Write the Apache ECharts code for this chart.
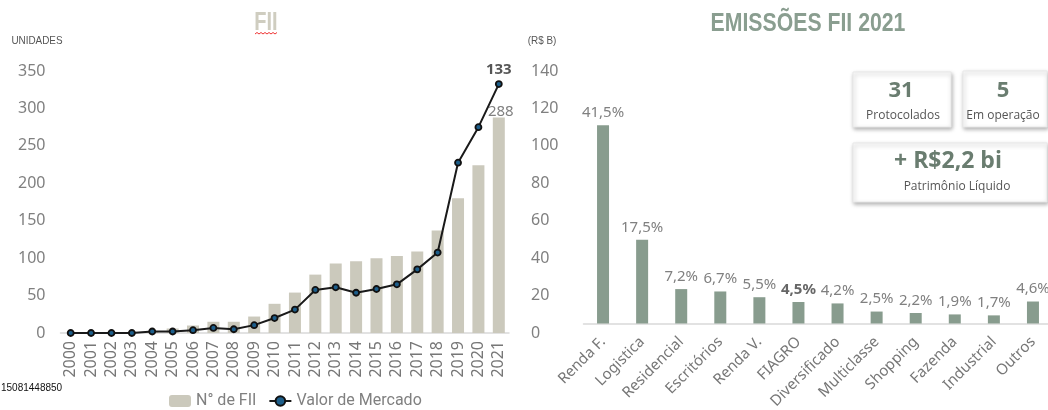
<!DOCTYPE html>
<html><head><meta charset="utf-8">
<script src="https://cdn.jsdelivr.net/npm/echarts@6/dist/echarts.min.js"></script>
<style>html,body{margin:0;padding:0;background:#fff}#c{width:1048px;height:410px}</style>
</head><body><div id="c"></div>
<script>
const years = ['2000','2001','2002','2003','2004','2005','2006','2007','2008','2009','2010','2011','2012','2013','2014','2015','2016','2017','2018','2019','2020','2021'];
const numFII = [0,0,0,0,2,6,10,15,15,22,39,54,78,93,96,100,103,109,137,180,224,288];
const valorMercado = [0,0,0,0,0.8,0.8,1.5,2.7,2,4.2,8,12.5,23,24.4,21.5,23.5,26,34,43,91,110,133];
const leftTicks = [0,50,100,150,200,250,300,350];
const rightTicks = [0,20,40,60,80,100,120,140];
const categories = ['Renda F.','Logistica','Residencial','Escritórios','Renda V.','FIAGRO','Diversificado','Multiclasse','Shopping','Fazenda','Industrial','Outros'];
const emissoes = [41.5,17.5,7.2,6.7,5.5,4.5,4.2,2.5,2.2,1.9,1.7,4.6];

const FONT = 'Noto Sans';
const GRAY = '#808080';
const chart = echarts.init(document.getElementById('c'));
const fmtPct = v => v.toFixed(1).replace('.', ',') + '%';

chart.setOption({
  animation: false,
  textStyle: {fontFamily: FONT},
  grid: [
    {left: 60.5, width: 448.5, top: 71, bottom: 77, containLabel: false, outerBoundsMode: 'none'},
    {left: 583.5, width: 469, top: 84.5, bottom: 86.5, containLabel: false, outerBoundsMode: 'none'}
  ],
  legend: {
    data: ['N° de FII', 'Valor de Mercado'],
    left: 164, top: 388,
    itemWidth: 22, itemHeight: 12, itemGap: 12,
    textStyle: {fontFamily: 'Roboto', fontSize: 16, color: GRAY}
  },
  xAxis: [
    {type: 'category', gridIndex: 0, data: years,
     axisLine: {lineStyle: {color: '#d9d9d9', width: 1.5}}, axisTick: {show: false},
     axisLabel: {rotate: 90, fontSize: 16, color: '#777', margin: 8, interval: 0}},
    {type: 'category', gridIndex: 1, data: categories,
     axisLine: {lineStyle: {color: '#d9d9d9', width: 1.5}}, axisTick: {show: false},
     axisLabel: {rotate: 45, fontSize: 15, color: '#777', margin: 16, interval: 0}}
  ],
  yAxis: [
    {type: 'value', gridIndex: 0, min: 0, max: 350, interval: 50,
     axisLine: {show: false}, axisTick: {show: false}, splitLine: {show: false},
     axisLabel: {fontSize: 16, color: GRAY, margin: 15}},
    {type: 'value', gridIndex: 0, min: 0, max: 140, interval: 20, position: 'right',
     axisLine: {show: false}, axisTick: {show: false}, splitLine: {show: false},
     axisLabel: {fontSize: 16, color: GRAY, margin: 22}},
    {type: 'value', gridIndex: 1, min: 0, max: 50, show: false}
  ],
  series: [
    {name: 'N° de FII', type: 'bar', xAxisIndex: 0, yAxisIndex: 0, barWidth: 12,
     itemStyle: {color: '#cbc9bc'},
     data: numFII.map((v, i) => i === numFII.length - 1
       ? {value: v, label: {show: true, position: 'top', distance: -2, fontSize: 15, color: GRAY, offset: [2, 0]}}
       : v)},
    {name: 'Valor de Mercado', type: 'line', xAxisIndex: 0, yAxisIndex: 1,
     symbol: 'circle', symbolSize: 6,
     lineStyle: {color: '#1a1a1a', width: 2},
     itemStyle: {color: '#1d5e8a', borderColor: '#111', borderWidth: 1.8},
     data: valorMercado.map((v, i) => i === valorMercado.length - 1
       ? {value: v, label: {show: true, position: 'top', distance: 3, fontSize: 15, fontWeight: 'bold', color: '#555'}}
       : v)},
    {name: 'Emissões', type: 'bar', xAxisIndex: 1, yAxisIndex: 2, barWidth: 12,
     itemStyle: {color: '#889c8e'},
     label: {show: true, position: 'top', distance: 5, fontSize: 15, color: GRAY,
       formatter: p => fmtPct(p.value)},
     data: emissoes.map((v, i) => categories[i] === 'FIAGRO'
       ? {value: v, label: {fontWeight: 'bold', color: '#666'}} : v)}
  ],
  graphic: [
    {type: 'text', x: 266, y: 23, scaleX: 0.8,
     style: {text: 'FII', font: 'bold 25px "Liberation Sans"', fill: '#cfcdc0', textAlign: 'center', textVerticalAlign: 'middle'}},
    {type: 'polyline', shape: {points: [[255,34],[257,32.5],[259,34],[261,32.5],[263,34],[265,32.5],[267,34],[269,32.5],[271,34],[273,32.5],[275,34],[277,32.5]]},
     style: {stroke: '#e33', lineWidth: 1, fill: null}},
    {type: 'text', x: 37, y: 41, scaleX: 0.9,
     style: {text: 'UNIDADES', font: '11px "Liberation Sans"', fill: '#555', textAlign: 'center', textVerticalAlign: 'middle'}},
    {type: 'text', x: 542, y: 41, scaleX: 0.9,
     style: {text: '(R$ B)', font: '11px "Liberation Sans"', fill: '#555', textAlign: 'center', textVerticalAlign: 'middle'}},
    {type: 'text', x: 1, y: 388,
     style: {text: '15081448850', font: '10px "Liberation Sans"', fill: '#111', textAlign: 'left', textVerticalAlign: 'middle'}},
    {type: 'text', x: 808, y: 24, scaleX: 0.85,
     style: {text: 'EMISSÕES FII 2021', font: 'bold 25px "Liberation Sans"', fill: '#8a9e90', textAlign: 'center', textVerticalAlign: 'middle'}},
    {type: 'rect', shape: {x: 853, y: 72, width: 98, height: 55},
     style: {fill: '#fff', stroke: '#e8e8e8', lineWidth: 1, shadowBlur: 4, shadowOffsetX: 1, shadowOffsetY: 2, shadowColor: 'rgba(0,0,0,0.3)'}},
    {type: 'rect', shape: {x: 963, y: 71, width: 84, height: 56},
     style: {fill: '#fff', stroke: '#e8e8e8', lineWidth: 1, shadowBlur: 4, shadowOffsetX: 1, shadowOffsetY: 2, shadowColor: 'rgba(0,0,0,0.3)'}},
    {type: 'rect', shape: {x: 853, y: 143, width: 194, height: 59},
     style: {fill: '#fff', stroke: '#e8e8e8', lineWidth: 1, shadowBlur: 4, shadowOffsetX: 1, shadowOffsetY: 2, shadowColor: 'rgba(0,0,0,0.3)'}},
    {type: 'text', x: 901, y: 91,
     style: {text: '31', font: 'bold 22px "Open Sans"', fill: '#6a7d70', textAlign: 'center', textVerticalAlign: 'middle'}},
    {type: 'text', x: 903, y: 116,
     style: {text: 'Protocolados', font: '12px "Open Sans"', fill: '#555', textAlign: 'center', textVerticalAlign: 'middle'}},
    {type: 'text', x: 1003, y: 91,
     style: {text: '5', font: 'bold 22px "Open Sans"', fill: '#6a7d70', textAlign: 'center', textVerticalAlign: 'middle'}},
    {type: 'text', x: 1003, y: 116,
     style: {text: 'Em operação', font: '12px "Open Sans"', fill: '#555', textAlign: 'center', textVerticalAlign: 'middle'}},
    {type: 'text', x: 948, y: 161,
     style: {text: '+ R$2,2 bi', font: 'bold 23px "Open Sans"', fill: '#6a7d70', textAlign: 'center', textVerticalAlign: 'middle'}},
    {type: 'text', x: 957, y: 187,
     style: {text: 'Patrimônio Líquido', font: '12px "Open Sans"', fill: '#555', textAlign: 'center', textVerticalAlign: 'middle'}}
  ]
});
</script></body></html>
